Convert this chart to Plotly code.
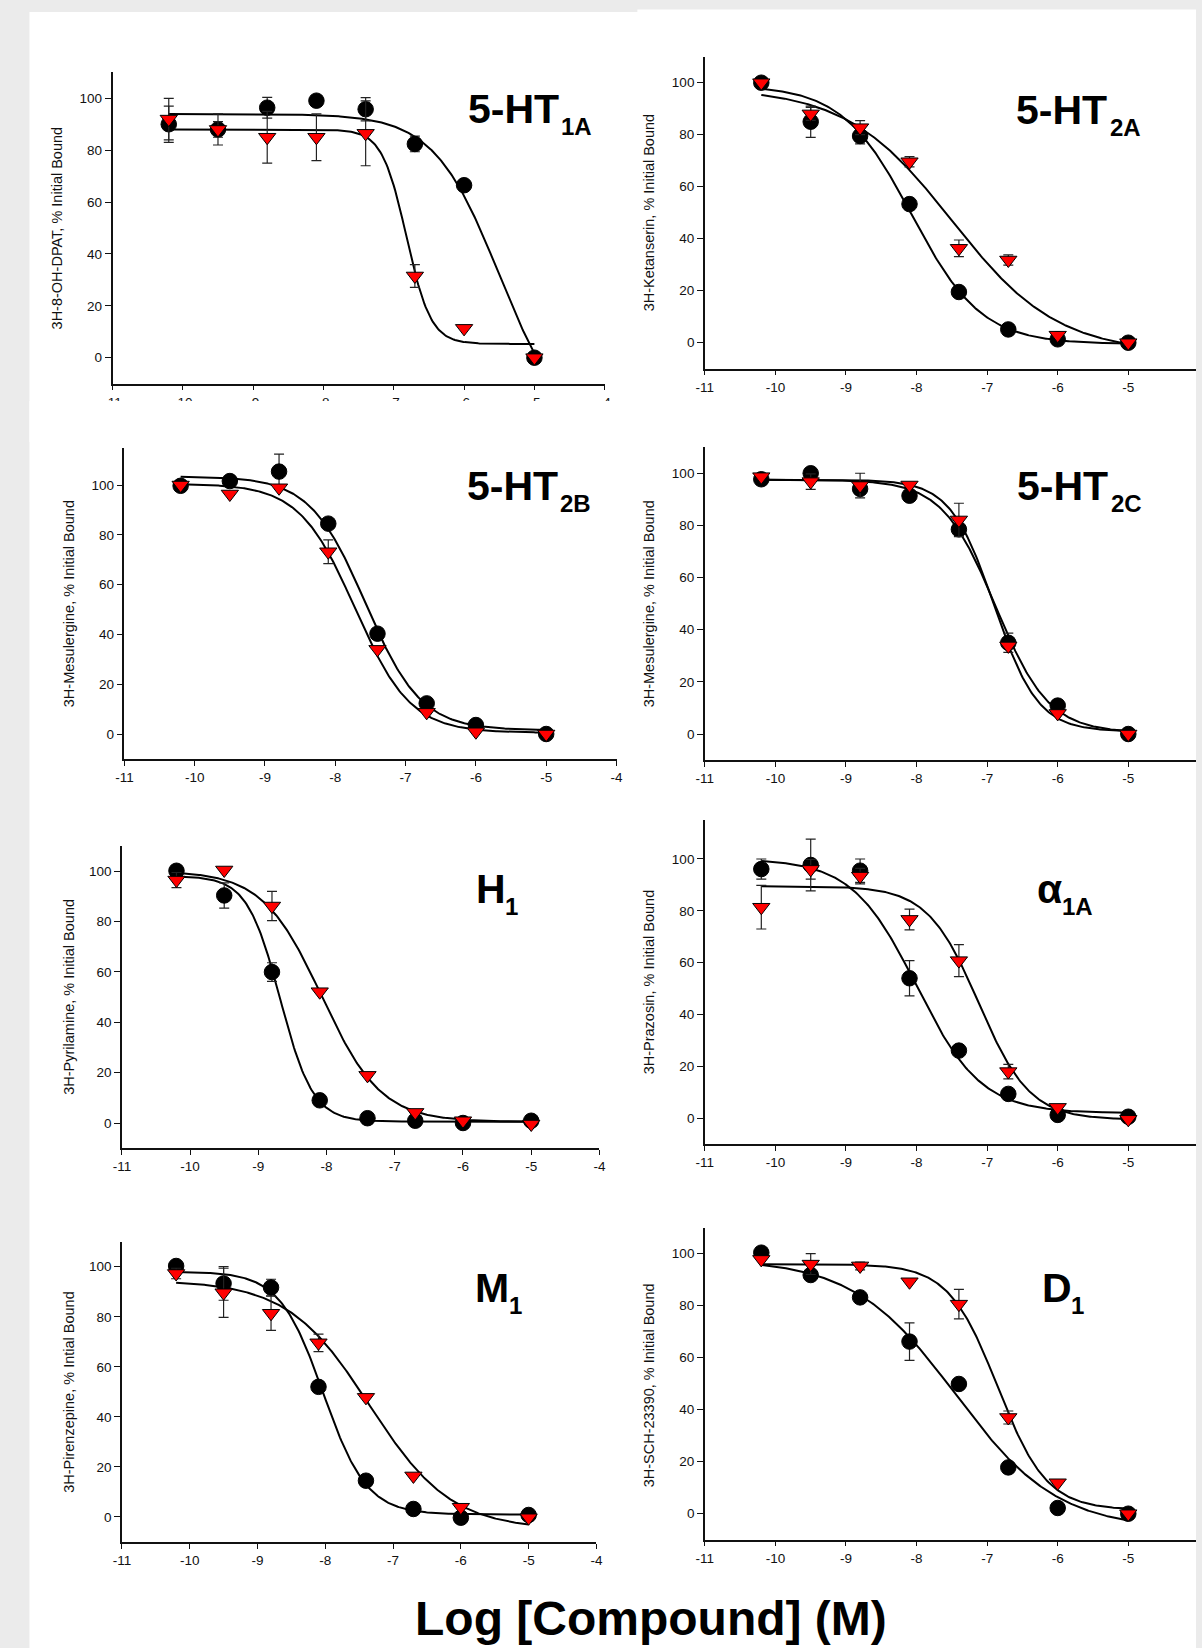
import numpy as np
import plotly.graph_objects as go

W, H = 1202, 1648

# ---------------- data ----------------
log_conc = [-10.2, -9.5, -8.8, -8.1, -7.4, -6.7, -6.0, -5.0]
x_tick_vals = [-11, -10, -9, -8, -7, -6, -5, -4]
x_tick_text = ["-11", "-10", "-9", "-8", "-7", "-6", "-5", "-4"]
y_tick_vals = [0, 20, 40, 60, 80, 100]

panel_main = ["5-HT", "5-HT", "5-HT", "5-HT", "H", "\u03b1", "M", "D"]
panel_sub = ["1A", "2A", "2B", "2C", "1", "1A", "1", "1"]
y_titles = [
    "3H-8-OH-DPAT, % Initial Bound",
    "3H-Ketanserin, % Initial Bound",
    "3H-Mesulergine, % Initial Bound",
    "3H-Mesulergine, % Initial Bound",
    "3H-Pyrilamine, % Initial Bound",
    "3H-Prazosin, % Initial Bound",
    "3H-Pirenzepine, % Intial Bound",
    "3H-SCH-23390, % Initial Bound",
]

# fit parameters: [top, bottom, logIC50, hill]
ht1a_circle = [90, 88, 96.4, 99.1, 95.8, 82.4, 66.5, 0]
ht1a_circle_err = [7, 6, 4, 0, 4.5, 3, 0, 0]
ht1a_tri = [92, 88, 85, 85, 86.5, 31.5, 11.3, 0]
ht1a_tri_err = [8, 3, 10, 9, 12.5, 4.4, 0, 0]
ht1a_circle_fit = [94, -30, -5.5, 0.93]
ht1a_tri_fit = [88, 5.3, -6.82, 2.5]

ht2a_circle = [100, 85, 79.5, 53.3, 19.5, 5.1, 1.3, 0]
ht2a_circle_err = [0, 6, 3, 0, 0, 0, 0, 0]
ht2a_tri = [100, 88, 82.7, 69.6, 36.3, 31.8, 2.9, 0]
ht2a_tri_err = [0, 2.5, 2.7, 2, 3.2, 2, 0, 0]
ht2a_circle_fit = [99, -0.5, -8.07, 0.88]
ht2a_tri_fit = [98, -4, -7.5, 0.58]

ht2b_circle = [99.7, 101.6, 105.4, 84.5, 40.3, 12.3, 3.6, 0]
ht2b_circle_err = [0, 0, 7, 0, 0, 0, 0, 0]
ht2b_tri = [100, 96.4, 98.9, 73.2, 34, 8.7, 0.9, 0]
ht2b_tri_err = [0, 0, 0, 4.8, 0, 0, 0, 0]
ht2b_circle_fit = [103.5, 1.5, -7.57, 1.1]
ht2b_tri_fit = [100.5, 0.5, -7.72, 1.1]

ht2c_circle = [97.7, 100, 94, 91.4, 78.5, 35, 10.9, 0]
ht2c_circle_err = [0, 0, 0, 0, 0, 3.7, 0, 0]
ht2c_tri = [98.7, 96.8, 95.3, 95.5, 82.1, 33.8, 7.9, 0]
ht2c_tri_err = [0, 3, 4.7, 0, 6.4, 0, 0, 0]
ht2c_circle_fit = [97.5, 0.5, -6.88, 1.15]
ht2c_tri_fit = [97.5, 1, -6.9, 1.4]

h1_circle = [100.1, 90.3, 59.9, 9, 1.9, 0.9, 0, 0.9]
h1_circle_err = [0, 5, 3.7, 0, 0, 0, 0, 0]
h1_tri = [96.4, 100.4, 86.1, 52.1, 18.9, 4.2, 0.9, -0.4]
h1_tri_err = [3, 0, 5.8, 0, 0, 0, 0, 0]
h1_circle_fit = [98, 0.5, -8.68, 1.8]
h1_tri_fit = [100, 0.5, -8.07, 1.0]

a1a_circle = [96.1, 97.7, 95.5, 54, 26.1, 9.4, 1.3, 0.6]
a1a_circle_err = [3.9, 10, 4.5, 6.8, 0, 0, 0, 0]
a1a_tri = [81.4, 96, 93.4, 76.7, 60.8, 18, 4.2, -0.4]
a1a_tri_err = [8.4, 3.8, 3, 4, 6.2, 2.8, 0, 0]
a1a_circle_fit = [100, 2, -8.0, 0.95]
a1a_tri_fit = [89.5, -0.5, -7.12, 1.2]

m1_circle = [100.3, 93.3, 91.7, 52, 14.5, 3.2, -0.3, 0.8]
m1_circle_err = [0, 6.7, 3.3, 0, 0, 0, 0, 0]
m1_tri = [97.3, 89.6, 81.4, 69.6, 47.8, 16.4, 3.9, -0.3]
m1_tri_err = [2.1, 9.8, 6.8, 3.5, 0, 0, 0, 0]
m1_circle_fit = [98, 1, -8.03, 1.35]
m1_tri_fit = [94.5, -5, -7.35, 0.72]

d1_circle = [100.4, 91.8, 83.2, 66.2, 49.9, 17.8, 2.2, 0]
d1_circle_err = [0, 0, 0, 7.2, 0, 0, 0, 0]
d1_tri = [97.8, 96, 95.3, 89.2, 80.6, 37, 11.9, 0]
d1_tri_err = [0, 4, 1.5, 0, 5.7, 2.5, 0, 0]
d1_circle_fit = [98, -6, -7.45, 0.6]
d1_tri_fit = [96, 1.5, -6.85, 1.25]

panels = [
    (ht1a_circle, ht1a_circle_err, ht1a_tri, ht1a_tri_err, ht1a_circle_fit, ht1a_tri_fit),
    (ht2a_circle, ht2a_circle_err, ht2a_tri, ht2a_tri_err, ht2a_circle_fit, ht2a_tri_fit),
    (ht2b_circle, ht2b_circle_err, ht2b_tri, ht2b_tri_err, ht2b_circle_fit, ht2b_tri_fit),
    (ht2c_circle, ht2c_circle_err, ht2c_tri, ht2c_tri_err, ht2c_circle_fit, ht2c_tri_fit),
    (h1_circle, h1_circle_err, h1_tri, h1_tri_err, h1_circle_fit, h1_tri_fit),
    (a1a_circle, a1a_circle_err, a1a_tri, a1a_tri_err, a1a_circle_fit, a1a_tri_fit),
    (m1_circle, m1_circle_err, m1_tri, m1_tri_err, m1_circle_fit, m1_tri_fit),
    (d1_circle, d1_circle_err, d1_tri, d1_tri_err, d1_circle_fit, d1_tri_fit),
]

# ---------------- layout geometry (target picture pixels) ----------------
# (x at -11, x at -4, y at -10, y at y_max, y_max)
geom = [
    (112.2, 605.3, 383.6, 72.4, 110),
    (705.6, 1200.5, 368.7, 56.7, 110),
    (124.1, 617.1, 758.9, 447.7, 115),
    (705.6, 1200.5, 760.1, 447.2, 110),
    (121.6, 600.0, 1148.2, 845.8, 110),
    (705.6, 1200.5, 1144.2, 820.1, 115),
    (121.6, 597.0, 1542.0, 1241.7, 110),
    (705.6, 1200.5, 1539.7, 1227.7, 110),
]
# (main_left, main_baseline, sub_left)
label_pos = [
    (466, 123.3, 559.5),
    (1015, 124, 1109.5),
    (465, 500.5, 558.5),
    (1016.5, 500.5, 1110.5),
    (474, 903, 503),
    (1036, 903.3, 1061.7),
    (473.5, 1302, 507.5),
    (1041.5, 1302, 1070.5),
]
ytitle_pos = [(57, 228), (650, 213), (69.4, 603.4), (650, 604),
              (68.4, 997), (650, 982), (68.4, 1392), (650, 1385)]

FONT = "Liberation Sans, Arial, Helvetica, sans-serif"

# the captured picture maps page x to  x_pic = X0 + SX * x_page  (measured)
X0, SX = 8.5, 0.9893


def page_x(p):
    return (p - X0) / SX


def px_x(p):
    return page_x(p) / W


def px_y(p):
    return 1 - p / H


def logistic(x, p):
    top, bottom, c, h = p
    return bottom + (top - bottom) / (1 + 10 ** ((x - c) * h))


fig = go.Figure()
layout = dict(
    width=W, height=H,
    margin=dict(l=0, r=0, t=0, b=0),
    paper_bgcolor="#ebebeb",
    plot_bgcolor="rgba(0,0,0,0)",
    showlegend=False,
    font=dict(family=FONT, color="#111"),
)
annotations = []
shapes = [
    dict(type="rect", xref="paper", yref="paper", x0=px_x(29), x1=px_x(639),
         y0=0, y1=px_y(12), fillcolor="white", line=dict(width=0), layer="below"),
    dict(type="rect", xref="paper", yref="paper", x0=px_x(638), x1=1,
         y0=0, y1=px_y(9.5), fillcolor="white", line=dict(width=0), layer="below"),
]

xfine = np.linspace(log_conc[0], log_conc[-1], 300)

for i, (circ, circ_err, tri, tri_err, cfit, tfit) in enumerate(panels):
    n = i + 1
    xa = "x" if n == 1 else f"x{n}"
    ya = "y" if n == 1 else f"y{n}"
    xl, xr, yb, yt, ymax = geom[i]
    pl, pr = page_x(xl), page_x(xr)
    per_unit = (pr - pl) / 7.0
    if pr > W:
        x_dom_r = 1.0
        x_end = -11 + (W - pl) / per_unit
    else:
        x_dom_r = pr / W
        x_end = -4
    layout["xaxis" if n == 1 else f"xaxis{n}"] = dict(
        domain=[pl / W, x_dom_r], range=[-11, x_end], anchor=ya,
        showline=True, linecolor="#111", linewidth=1.5,
        ticks="outside", ticklen=5, tickwidth=1.2, tickcolor="#111",
        tickvals=x_tick_vals, ticktext=x_tick_text,
        showgrid=False, zeroline=False,
        tickfont=dict(family=FONT, size=13.5, color="#111"),
    )
    layout["yaxis" if n == 1 else f"yaxis{n}"] = dict(
        domain=[px_y(yb), px_y(yt)], range=[-10, ymax], anchor=xa,
        showline=True, linecolor="#111", linewidth=1.5,
        ticks="outside", ticklen=6, tickwidth=1.2, tickcolor="#111",
        tickvals=y_tick_vals,
        showgrid=False, zeroline=False,
        tickfont=dict(family=FONT, size=13.5, color="#111"),
    )
    for fit in (cfit, tfit):
        fig.add_trace(go.Scatter(x=xfine, y=logistic(xfine, fit), mode="lines",
                                 line=dict(color="black", width=2),
                                 xaxis=xa, yaxis=ya, hoverinfo="skip"))
    fig.add_trace(go.Scatter(
        x=log_conc, y=circ, mode="markers", xaxis=xa, yaxis=ya,
        marker=dict(symbol="circle", size=15.5, color="black",
                    line=dict(color="black", width=1)),
        error_y=dict(type="data", array=circ_err, visible=True,
                     color="#222", thickness=1.2, width=5),
    ))
    fig.add_trace(go.Scatter(
        x=log_conc, y=tri, mode="markers", xaxis=xa, yaxis=ya,
        marker=dict(symbol="triangle-down", size=15, color="#ff0000",
                    line=dict(color="black", width=1)),
        error_y=dict(type="data", array=tri_err, visible=True,
                     color="#222", thickness=1.2, width=5),
    ))

    ml, mb, sl = label_pos[i]
    annotations.append(dict(
        text=f"<b>{panel_main[i]}</b>", xref="paper", yref="paper",
        x=px_x(ml), y=px_y(mb - 0.3465 * 41), xanchor="left", yanchor="middle",
        showarrow=False, font=dict(family=FONT, size=41, color="black")))
    annotations.append(dict(
        text=f"<b>{panel_sub[i]}</b>", xref="paper", yref="paper",
        x=px_x(sl), y=px_y(mb + 11.7 - 0.3465 * 24), xanchor="left", yanchor="middle",
        showarrow=False, font=dict(family=FONT, size=24, color="black")))
    tx, ty = ytitle_pos[i]
    annotations.append(dict(
        text=y_titles[i], xref="paper", yref="paper", x=px_x(tx), y=px_y(ty),
        xanchor="center", yanchor="middle", textangle=-90, showarrow=False,
        font=dict(family=FONT, size=14.5, color="#111")))

# cover that clips the lower half of the first panel's tick labels
shapes.append(dict(type="rect", xref="paper", yref="paper", x0=px_x(29), x1=px_x(640),
                   y0=px_y(442), y1=px_y(401), fillcolor="white",
                   line=dict(width=0), layer="above"))

annotations.append(dict(
    text="<b>Log [Compound] (M)</b>", xref="paper", yref="paper",
    x=px_x(652), y=px_y(1635 - 0.3465 * 48), xanchor="center", yanchor="middle",
    showarrow=False, font=dict(family=FONT, size=48, color="black")))

layout["annotations"] = annotations
layout["shapes"] = shapes
fig.update_layout(**layout)

fig.write_html("out.html", config={"displayModeBar": False},
               post_script="document.body.style.margin='0';")
